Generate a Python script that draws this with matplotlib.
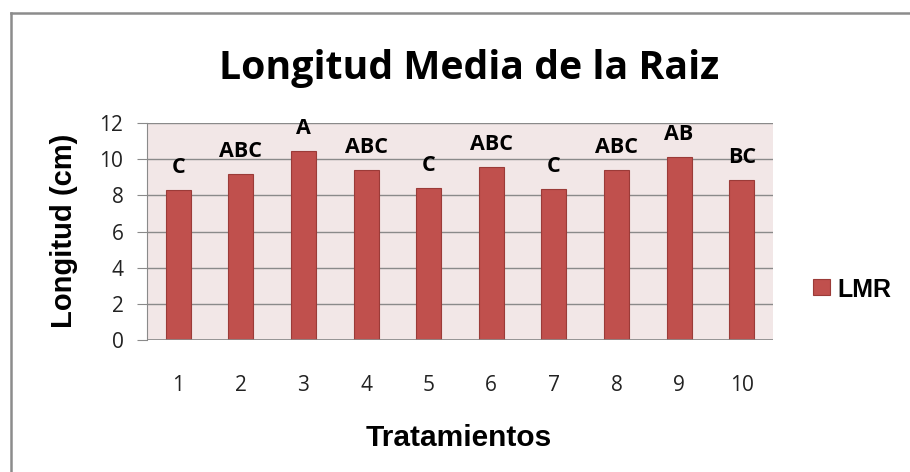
import matplotlib
matplotlib.use("Agg")
import matplotlib.pyplot as plt
from matplotlib.lines import Line2D
from matplotlib.patches import Rectangle

categories = ["1", "2", "3", "4", "5", "6", "7", "8", "9", "10"]
values = [8.3, 9.2, 10.47, 9.42, 8.42, 9.55, 8.35, 9.4, 10.12, 8.85]
letters = ["C", "ABC", "A", "ABC", "C", "ABC", "C", "ABC", "AB", "BC"]
yticks = [0, 2, 4, 6, 8, 10, 12]

W, H = 910, 472
fig = plt.figure(figsize=(W / 100, H / 100), dpi=100)
fig.patch.set_facecolor("white")

def fx(px):
    return px / W

def fy(py):
    return 1 - py / H

# outer frame (only top and left edges visible)
fig.lines.append(Line2D([fx(11), fx(910)], [fy(13), fy(13)], transform=fig.transFigure,
                        color="#8c8c8c", linewidth=1.8))
fig.lines.append(Line2D([fx(11), fx(11)], [fy(13), fy(472)], transform=fig.transFigure,
                        color="#8c8c8c", linewidth=1.8))

ax = fig.add_axes([fx(147), fy(340), (773 - 147) / W, (340 - 123) / H])
ax.set_facecolor("#F2E7E7")
x = list(range(len(categories)))
ax.bar(x, values, width=0.4, color="#C0504D", edgecolor="#9b3b38", linewidth=0.8,
       zorder=3, label="LMR")
ax.set_xlim(-0.5, len(categories) - 0.5)
ax.set_ylim(0, 12)
ax.set_yticks(yticks)
ax.set_xticks(x)
ax.set_xticklabels(categories)
ax.yaxis.grid(True, color="#8a8a8a", linewidth=1.0, zorder=0)
ax.set_axisbelow(True)
for s in ["top", "right", "bottom"]:
    ax.spines[s].set_visible(False)
ax.spines["left"].set_color("#8a8a8a")
ax.axhline(0, color="#8a8a8a", linewidth=1.2, zorder=4)
ax.tick_params(axis="y", length=7, color="#8a8a8a", labelsize=15, pad=10)
ax.tick_params(axis="x", length=0, labelsize=15, pad=25)
for lab in ax.get_xticklabels() + ax.get_yticklabels():
    lab.set_fontfamily("Open Sans")
    lab.set_color("#222222")

for xi, v, t in zip(x, values, letters):
    ax.text(xi, v + 0.93, t, ha="center", va="baseline", fontsize=15.5,
            fontweight="bold", family="Open Sans", color="black")

fig.text(fx(469), fy(79), "Longitud Media de la Raiz", ha="center", va="baseline",
         fontsize=28.3, fontweight="bold", family="Open Sans")
fig.text(fx(64), fy(231), "Longitud (cm)", ha="center", va="center", rotation=90,
         fontsize=21, fontweight="bold", family="Liberation Sans")
fig.text(fx(459), fy(446), "Tratamientos", ha="center", va="baseline",
         fontsize=21.5, fontweight="bold", family="Liberation Sans")

# legend
fig.patches.append(Rectangle((fx(813), fy(295)), 17 / W, 16 / H,
                             transform=fig.transFigure, facecolor="#C0504D",
                             edgecolor="#9b3b38", linewidth=0.8))
fig.text(fx(837), fy(297), "LMR", ha="left", va="baseline",
         fontsize=18, fontweight="bold", family="Liberation Sans")

fig.savefig("out.png", dpi=100)
